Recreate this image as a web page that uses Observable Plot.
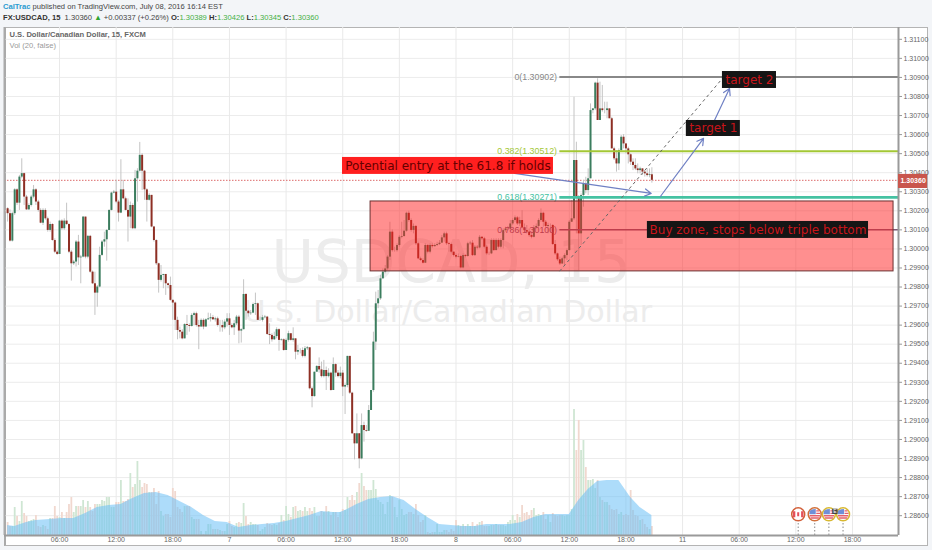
<!DOCTYPE html>
<html><head><meta charset="utf-8">
<script src="https://cdn.jsdelivr.net/npm/d3@7"></script>
<script src="https://cdn.jsdelivr.net/npm/@observablehq/plot@0.6"></script>
<style>
html,body{margin:0;padding:0;background:#f3f5f8;width:932px;height:550px;overflow:hidden}
#sheet{position:absolute;left:4px;top:27px;width:924px;height:519px;background:#fff;border:1px solid #b4b4b4;border-left:2px solid #aaa;box-sizing:border-box}
#head{position:absolute;left:3px;top:1px;font:7.6px "Liberation Sans",Arial,sans-serif;color:#444;line-height:11px;white-space:nowrap}
#head b{color:#333}#head .n{color:#2a9bd0;font-weight:bold}#head .g{color:#45b045}
#chart{position:absolute;left:0;top:27px}
</style></head><body>
<div id="sheet"></div>
<div id="head"><div id="l1"></div><div id="l2"></div></div>
<div id="chart"></div>
<script>
// Prices in points: value = 1 + pts / 100000. Bars are numbered from Wed midnight, 15 minutes each.
const firstBar = 2, firstOpen = 30211;
const closes = [
30185,30041,30185,30310,30240,30377,30395,30272,30205,30228,
30272,30310,30246,30202,30135,30202,30158,30097,30128,30044,
29983,29971,30146,30106,30146,30128,29983,29922,29931,30036,
29953,29957,30167,29957,30066,29878,29817,29768,29800,29966,
30036,30048,30097,30202,30293,30298,30246,30188,30310,30263,
30202,30167,30228,30106,30368,30408,30491,30408,30310,30255,
30281,30115,30044,29922,29835,29861,29866,29817,29808,29730,
29716,29625,29572,29563,29528,29603,29598,29593,29651,29660,
29598,29590,29625,29590,29628,29633,29639,29628,29633,29598,
29598,29586,29616,29633,29598,29586,29607,29642,29569,29576,
29761,29673,29660,29663,29708,29712,29625,29625,29639,29642,
29551,29546,29523,29540,29576,29520,29523,29467,29520,29555,
29520,29528,29458,29467,29467,29436,29476,29481,29266,29225,
29353,29383,29365,29330,29362,29330,29348,29257,29393,29348,
29330,29348,29275,29283,29436,29243,29030,28977,29030,28898,
29073,29047,29043,29152,29257,29511,29712,29738,29843,29878,
29895,29957,30088,29991,29991,30018,30061,30065,30093,30187,
30149,30097,30118,30027,29948,29939,29925,30018,29983,30018,
30012,30018,30023,30030,30058,30079,30027,30023,29983,29965,
29957,29960,29900,29965,29960,30027,30030,29965,30009,30005,
30061,30053,30009,29974,29974,30044,29991,30044,30009,30044,
30096,30105,30105,30131,30149,30163,30131,30149,30110,30096,
30088,30070,30061,30110,30118,30149,30187,30140,30118,30123,
30123,30023,29974,29943,29921,29948,29965,29991,30140,30158,
30464,30271,30079,30280,30341,30306,30368,30726,30735,30870,
30674,30735,30726,30726,30735,30683,30525,30473,30446,30516,
30586,30551,30525,30494,30455,30438,30420,30411,30420,30403,
30394,30385,30389,30360];
const highs = [
30216,30205,30193,30316,30316,30386,30473,30398,30281,30237,
30281,30333,30316,30255,30211,30211,30211,30167,30141,30132,
30053,29992,30150,30153,30158,30240,30132,29992,29940,30044,
30071,29966,30170,30167,30071,30071,29884,29878,29808,30009,
30044,30088,30101,30205,30298,30307,30360,30255,30468,30360,
30272,30263,30246,30237,30412,30421,30559,30500,30412,30316,
30290,30281,30118,30048,29925,29913,29866,29856,29820,29852,
29733,29721,29642,29590,29576,29607,29651,29607,29660,29668,
29668,29625,29633,29633,29633,29663,29660,29651,29642,29642,
29625,29625,29628,29660,29660,29607,29625,29651,29651,29581,
29838,29765,29677,29677,29716,29768,29716,29642,29651,29651,
29646,29607,29555,29563,29586,29581,29528,29528,29528,29568,
29546,29586,29528,29493,29476,29481,29488,29488,29481,29275,
29353,29388,29428,29406,29415,29380,29371,29353,29428,29397,
29362,29380,29362,29292,29436,29436,29248,29030,29134,29030,
29134,29091,29073,29178,29257,29563,29773,29782,29861,29895,
29913,29965,30140,30100,30009,30027,30070,30140,30149,30193,
30198,30158,30131,30123,30035,29957,29948,30027,30023,30027,
30027,30027,30035,30044,30070,30088,30088,30035,30030,29983,
29974,29974,29965,29974,29970,30035,30040,30044,30018,30018,
30070,30065,30061,30018,29983,30053,30053,30053,30053,30053,
30105,30114,30118,30149,30158,30173,30170,30166,30201,30131,
30123,30105,30088,30123,30131,30158,30210,30193,30149,30135,
30131,30128,30044,29978,29957,29957,29974,30000,30149,30254,
30796,30560,30280,30289,30359,30376,30420,30761,30735,30875,
30893,30875,30858,30770,30770,30735,30691,30534,30516,30525,
30595,30600,30551,30534,30499,30473,30473,30446,30429,30420,
30411,30420,30420,30426];
const lows = [
30141,30036,30036,30176,30228,30202,30368,30228,30202,30202,
30220,30263,30228,30193,30132,30123,30150,30088,30088,30041,
29975,29966,30001,30097,30097,30123,29975,29831,29913,29905,
29913,29817,29953,29948,29948,29873,29813,29651,29694,29796,
29961,30009,29936,30097,30199,30289,30237,30141,30185,30258,
30199,30036,30106,30101,30101,30246,30403,30307,30255,30141,
30251,30111,30036,29913,29768,29826,29791,29756,29791,29726,
29625,29572,29523,29528,29523,29528,29546,29563,29590,29598,
29590,29471,29590,29576,29590,29625,29616,29625,29616,29590,
29563,29563,29576,29590,29546,29581,29546,29598,29502,29506,
29576,29625,29642,29651,29660,29651,29625,29621,29616,29633,
29546,29498,29511,29520,29528,29463,29516,29463,29467,29511,
29516,29511,29418,29441,29449,29428,29428,29467,29260,29166,
29222,29353,29348,29323,29323,29257,29323,29253,29327,29327,
29323,29318,29225,29131,29271,29236,29026,28893,28977,28846,
28893,28986,29038,29043,29152,29248,29467,29686,29730,29843,
29869,29887,29939,29983,29983,29983,30009,30053,30061,30088,
30140,30088,30079,30018,29943,29935,29921,29925,29974,29974,
30005,30009,30012,30018,30044,30035,30018,29983,29974,29957,
29948,29953,29895,29895,29953,29957,30018,29960,29960,29995,
30000,30044,30000,29965,29965,29970,29988,29991,30000,30000,
30000,30088,30096,30100,30123,30140,30123,30118,30105,30083,
30079,30061,30053,30058,30105,30105,30140,30114,30111,30079,
30083,30018,29965,29935,29913,29918,29913,29939,29991,30140,
30149,30079,29886,30018,30219,30289,30280,30368,30709,30726,
30674,30674,30718,30709,30683,30683,30525,30464,30403,30411,
30508,30525,30499,30446,30438,30411,30411,30394,30394,30385,
30377,30377,30373,30345];
const volumes = [
13,9,9,28,19,14,34,22,19,14,
15,16,20,9,8,10,9,6,17,17,
29,19,18,23,17,23,31,38,23,29,
29,29,35,28,34,28,24,31,31,31,
35,34,38,38,28,28,33,33,55,34,
34,36,62,48,51,74,55,48,52,51,
43,43,47,31,44,24,19,21,21,18,
47,44,28,26,23,29,29,29,18,16,
16,16,4,1,4,11,11,6,6,6,
5,4,4,11,14,9,8,12,13,12,
32,19,11,13,11,11,10,4,6,8,
12,11,10,11,10,12,20,15,29,21,
18,28,29,24,25,24,28,24,27,24,
28,19,19,24,23,29,24,20,23,23,
18,23,26,25,38,35,40,35,43,52,
62,49,45,45,45,55,46,35,33,31,
21,33,40,38,28,18,35,26,20,21,
23,23,21,31,20,13,15,20,3,2,
3,3,11,3,3,5,5,3,6,4,
15,10,9,11,9,11,9,13,9,11,
13,14,9,9,9,10,10,11,10,10,
10,9,13,15,20,15,21,18,30,22,
23,20,25,27,20,21,20,23,16,20,
13,22,20,19,20,20,19,20,20,26,
126,85,115,85,95,68,55,55,56,47,
55,38,35,33,33,30,26,25,26,21,
23,20,21,20,45,25,20,19,15,16,
11,8,6,9];
const volAvgBar = [2,5,10,14,20,25,30,35,40,45,50,55,60,65,70,75,80,85,90,95,100,105,110,115,120,125,130,135,140,143,146,150,155,160,165,170,175,180,185,190,195,200,205,210,215,220,225,230,235,240,244,248,252,256,261,266,270,275];
const volAvg = [10,9,13,15,16,17,17,22,28,30,31,37,42,43,40,34,28,20,14,13,8,10,11,12,14,17,20,24,23,23,26,31,36,38,39,35,26,18,11,10,9,9,11,11,11,13,18,21,21,21,35,46,54,55,55,38,28,20];

const priceTicks = [1.286,1.287,1.288,1.289,1.29,1.291,1.292,1.293,1.294,1.295,1.296,1.297,1.298,1.299,1.30,1.301,1.302,1.303,1.304,1.305,1.306,1.307,1.308,1.309,1.31,1.311];
const timeTickBars = [24,48,72,96,120,144,168,192,216,240,264,288,312,336,360];
const timeTickLabels = ["06:00","12:00","18:00","7","06:00","12:00","18:00","8","06:00","12:00","18:00","11","06:00","12:00","18:00"];

const xDomain = [0.68,379.5], yDomain = [1.28496,1.31162];
const volumeUnit = 1/19050, volumeBase = yDomain[0];
const lastPrice = 1.3036;

const fibLevels = [
  {label:"0(1.30902)", price:1.30902, color:"#888888", width:2, from:236},
  {label:"0.382(1.30512)", price:1.30512, color:"#a3c735", width:2, from:236},
  {label:"0.618(1.30271)", price:1.30271, color:"#45c2a2", width:2.8, from:236},
  {label:"0.786(1.30100)", price:1.301, color:"#7d5a78", width:1.5, from:236}
];
const zone = [{x1:155.8,x2:377.4,y1:1.29882,y2:1.30249}];
const trend = [{x1:235.9,y1:1.29883,x2:304.9,y2:1.30895}];
const arrows = [
  {x1:216.8,y1:1.30396,x2:274.7,y2:1.30291},
  {x1:278.6,y1:1.30275,x2:296.9,y2:1.3058},
  {x1:301.5,y1:1.30674,x2:307.9,y2:1.30842}
];
const notes = [
  {text:"Potential entry at the 61.8 if holds", x1:143.9,x2:233.3,y1:1.30391,y2:1.3048, bg:"#ff1f1f", fg:"#660000"},
  {text:"target 1", x1:289.6,x2:312.5,y1:1.3059,y2:1.30674, bg:"#151515", fg:"#c8141a"},
  {text:"target 2", x1:304.9,x2:327.8,y1:1.30842,y2:1.30931, bg:"#151515", fg:"#c8141a"},
  {text:"Buy zone, stops below triple bottom", x1:273.1,x2:366.8,y1:1.30055,y2:1.30144, bg:"#151515", fg:"#c8141a"}
];
const eventBars = [337,344,350,356];
const eventKinds = ["CA","US","US","US"];
const eventRings = ["#d2603a","#d2703a","#d8b830","#d8b830"];
const eventPrice = 1.28607;

const pt = v => 1 + v/1e5;
const bars = closes.map((c,k)=>({
  i:k+firstBar,
  open:pt(k? closes[k-1]: firstOpen),
  close:pt(c), high:pt(highs[k]), low:pt(lows[k]),
  vol:volumes[k],
  up:c >= (k? closes[k-1]: firstOpen)
}));
const avg = volAvgBar.map((b,k)=>({i:b,top:volumeBase+volAvg[k]*volumeUnit}));
const events = eventBars.map((b,k)=>({i:b,kind:eventKinds[k],ring:eventRings[k],price:eventPrice}));

const usBlue = {draw(c){c.moveTo(-5,-3.5);c.lineTo(-2,-5);c.lineTo(1,-5.4);c.lineTo(1,0);c.lineTo(-5.4,0);c.closePath();}};
const usRed = {draw(c){c.rect(-5.2,0.7,10.4,1.5);c.rect(-4.2,3,8.4,1.4);c.rect(1.5,-4,3,1.2);c.rect(1.5,-1.6,4,1.2);}};
const caRed = {draw(c){c.rect(-5.3,-3,2.4,6);c.rect(2.9,-3,2.4,6);c.rect(-1,-2,2,4);}};

const plot = Plot.plot({
  width:932,height:523,marginLeft:4,marginRight:34,marginTop:0,marginBottom:15,
  style:{background:"transparent",fontFamily:"'Liberation Sans',Arial,sans-serif",maxWidth:"none"},
  x:{domain:xDomain},
  y:{domain:yDomain},
  marks:[
    Plot.ruleY(priceTicks,{stroke:"#ececec"}),
    Plot.ruleX(timeTickBars,{stroke:"#e9e9e9"}),
    Plot.text(["USDCAD, 15"],{x:[190],y:[1.29925],fontSize:58,fill:"#ececec",fontFamily:"'DejaVu Sans'",lineAnchor:"middle"}),
    Plot.text(["U.S. Dollar/Canadian Dollar"],{x:[188.5],y:[1.29666],fontSize:30,fill:"#ececec",fontFamily:"'DejaVu Sans'",lineAnchor:"middle"}),
    Plot.ruleY([lastPrice],{stroke:"#dc6a6a",strokeDasharray:"1.5 1.5",strokeWidth:1}),
    Plot.ruleX(bars,{x:"i",y1:volumeBase,y2:d=>volumeBase+d.vol*volumeUnit,stroke:d=>d.up?"#cfe6d3":"#f1d8cf",strokeWidth:1.8}),
    Plot.areaY(avg,{x:"i",y1:volumeBase,y2:"top",fill:"#69bff6",fillOpacity:.55}),
    Plot.ruleX(bars,{x:"i",y1:"low",y2:"high",stroke:"#c4c4c4",strokeWidth:1}),
    Plot.ruleX(bars,{x:"i",y1:"open",y2:"close",stroke:d=>d.up?"#3b7d5e":"#8e2f24",strokeWidth:2}),
    Plot.ruleY(fibLevels,{y:"price",x1:"from",x2:xDomain[1],stroke:"color",strokeWidth:"width"}),
    Plot.text(fibLevels,{x:234.8,y:"price",text:"label",fill:"color",fontSize:8.8,textAnchor:"end",lineAnchor:"middle"}),
    Plot.rect(zone,{x1:"x1",x2:"x2",y1:"y1",y2:"y2",fill:"#ff2020",fillOpacity:.5,stroke:"#6b3030",strokeWidth:1}),
    Plot.link(trend,{x1:"x1",y1:"y1",x2:"x2",y2:"y2",stroke:"#666",strokeWidth:1,strokeDasharray:"3 3"}),
    Plot.arrow(arrows,{x1:"x1",y1:"y1",x2:"x2",y2:"y2",stroke:"#6f80c4",strokeWidth:1.2,bend:0,headLength:9}),
    Plot.rect(notes,{x1:"x1",x2:"x2",y1:"y1",y2:"y2",fill:"bg"}),
    Plot.text(notes,{x:d=>(d.x1+d.x2)/2,y:d=>(d.y1+d.y2)/2,text:"text",fill:"fg",fontSize:12,fontFamily:"'DejaVu Sans'",lineAnchor:"middle"}),
    Plot.ruleX(events,{x:"i",y1:volumeBase,y2:"price",stroke:"#888",strokeDasharray:"1.5 2"}),
    Plot.dot(events,{x:"i",y:"price",r:6.5,fill:"#fff",stroke:"ring",strokeWidth:1.5}),
    Plot.dot(events.filter(d=>d.kind==="US"),{x:"i",y:"price",symbol:usBlue,fill:"#6f8fd8",stroke:"none"}),
    Plot.dot(events.filter(d=>d.kind==="US"),{x:"i",y:"price",symbol:usRed,fill:"#e4606a",stroke:"none"}),
    Plot.dot(events.filter(d=>d.kind==="CA"),{x:"i",y:"price",symbol:caRed,fill:"#e4505a",stroke:"none"}),
    Plot.dot([events[2]],{x:"i",y:"price",dx:6,dy:-3,symbol:"square",r:3,fill:"#444",stroke:"none"}),
    Plot.text(["E"],{x:[events[2].i],y:[eventPrice],dx:6,dy:-3,fill:"#fff",fontSize:5}),
    Plot.ruleX([xDomain[0]],{stroke:"#aaa",strokeWidth:2}),
    Plot.ruleX([xDomain[1]],{stroke:"#9a9a9a",strokeWidth:2}),
    Plot.ruleY([yDomain[0]],{stroke:"#9a9a9a",strokeWidth:2}),
    Plot.axisY(priceTicks,{anchor:"right",label:null,tickFormat:v=>v.toFixed(5),tickSize:3,tickPadding:2,fontSize:7,color:"#666",stroke:"#999"}),
    Plot.axisX(timeTickBars,{label:null,tickFormat:v=>timeTickLabels[timeTickBars.indexOf(v)],tickSize:0,tickPadding:2,fontSize:7,color:"#666"}),
    Plot.rect([{}],{x1:xDomain[1],x2:391.8,y1:1.30317,y2:1.30391,fill:"#c9564c"}),
    Plot.text([lastPrice.toFixed(5)],{x:[385.7],y:[lastPrice],fill:"#fff",fontSize:7,fontWeight:"bold",lineAnchor:"middle"}),
    Plot.text(["U.S. Dollar/Canadian Dollar, 15, FXCM"],{frameAnchor:"top-left",dx:5,dy:4,fill:"#666",fontSize:7.6,fontWeight:"bold",textAnchor:"start"}),
    Plot.text(["Vol (20, false)"],{frameAnchor:"top-left",dx:5,dy:15,fill:"#999",fontSize:7.6,textAnchor:"start"})
  ]
});
document.getElementById("chart").append(plot);

const hdr1 = ["CalTrac"," published on TradingView.com, July 08, 2016 16:14 EST"];
const ohlc = [["O:","1.30389"],["H:","1.30426"],["L:","1.30345"],["C:","1.30360"]];
document.getElementById("l1").innerHTML = `<span class="n">${hdr1[0]}</span>${hdr1[1]}`;
document.getElementById("l2").innerHTML = `<b>FX:USDCAD, 15</b>&nbsp; 1.30360 <span style="color:#2fa52f">▲</span> +0.00337 (+0.26%) `+
  ohlc.map(([k,v])=>`<b>${k}</b><span class="g">${v}</span>`).join(" ");
</script>
</body></html>
